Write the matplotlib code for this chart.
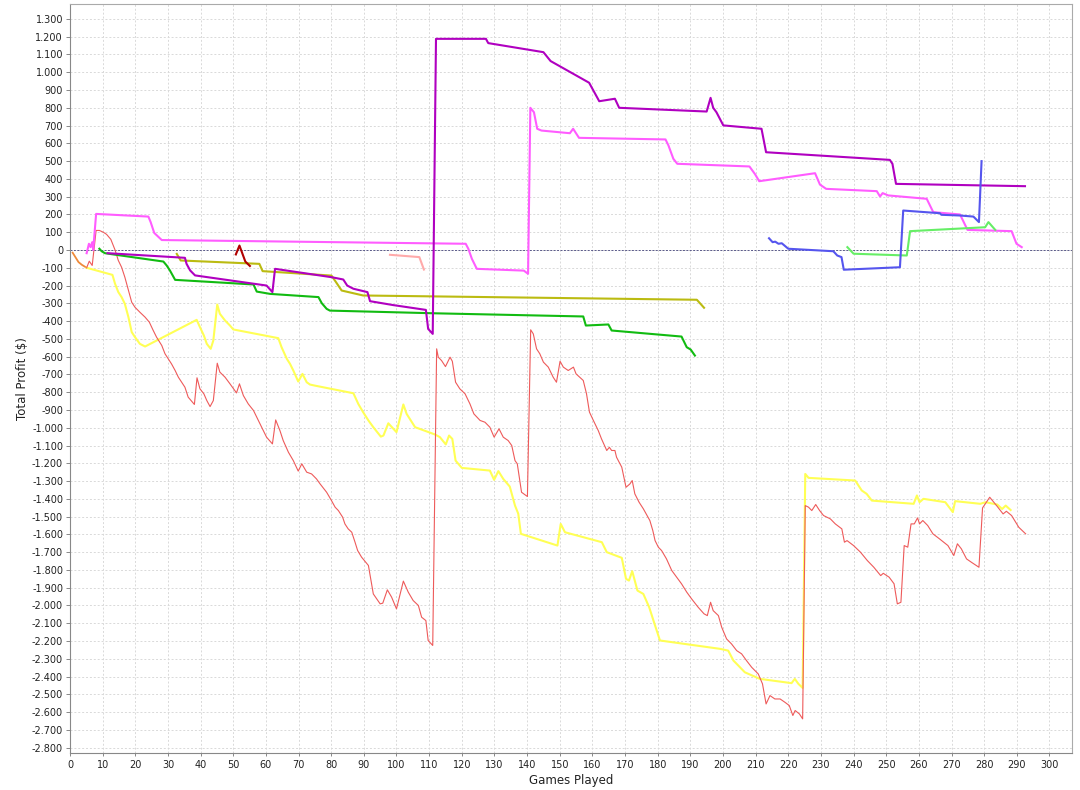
import matplotlib
matplotlib.use("Agg")
import matplotlib.pyplot as plt
from matplotlib.ticker import MultipleLocator, FuncFormatter

# ---------------- data ----------------
orange_x = [0.8, 2.6, 3.6, 5.1]
orange_y = [-15, -68, -83, -100]

red_x = [5.1, 5.9, 6.8, 8.0, 9.0, 10.2, 11.2, 12.5, 13.8, 14.8, 15.8, 16.8, 17.9, 18.9, 19.9, 21.4, 23.0, 24.3, 25.5, 26.5,
         28.1, 29.1, 30.1, 31.1, 32.2, 33.2, 34.2, 35.2, 36.2, 38.1, 38.9, 39.8, 41.0, 41.9, 42.9, 43.9, 45.1, 45.9, 47.5, 49.0,
         51.0, 51.9, 53.1, 54.6, 56.2, 57.2, 58.7, 60.2, 62.0, 63.0, 64.3, 65.3, 66.9, 68.4, 69.9, 71.0, 72.5, 74.0, 75.5, 76.6,
         78.6, 80.1, 81.2, 82.2, 83.5, 84.2, 85.2, 86.3, 87.3, 88.1, 89.3, 91.4, 92.9, 95.0, 95.8, 97.2, 98.5, 100.0, 102.1, 103.6,
         105.1, 106.7, 107.7, 109.0, 109.7, 111.1, 112.3, 112.8, 113.8, 115.0, 116.4, 117.1, 118.1, 119.4, 121.0, 122.5, 123.7, 125.6, 127.1, 128.6,
         129.9, 131.4, 132.7, 134.2, 135.3, 136.3, 137.0, 138.3, 140.1, 141.1, 141.9, 142.9, 143.9, 145.0, 146.5, 148.0, 149.0, 150.1, 151.1, 152.6,
         154.2, 155.0, 157.2, 158.2, 159.1, 160.3, 161.8, 162.8, 164.4, 165.2, 165.9, 166.9, 167.4, 169.0, 170.3, 171.5, 172.2, 173.0, 174.3, 175.6,
         177.6, 178.5, 179.2, 180.2, 181.2, 182.7, 184.3, 185.8, 187.3, 188.9, 190.4, 192.4, 194.2, 195.2, 196.2, 197.0, 198.6, 199.6, 201.1, 202.6,
         204.2, 205.7, 207.2, 208.8, 210.8, 212.1, 213.2, 214.4, 215.9, 217.5, 219.0, 220.3, 221.4, 222.1, 223.4, 224.4, 225.2, 226.2, 227.2, 228.4,
         229.6, 230.8, 232.9, 234.4, 236.4, 237.2, 238.0, 240.0, 242.1, 244.2, 246.2, 248.3, 249.1, 250.9, 252.4, 253.4, 254.5, 255.5, 256.6, 257.6,
         258.6, 259.6, 260.2, 261.2, 262.7, 264.3, 266.3, 268.9, 270.7, 271.8, 273.0, 274.6, 276.1, 278.4, 279.5, 281.7, 283.8, 285.8, 286.8, 288.4,
         290.6, 292.7]
red_y = [-100, -63, -87, 110, 110, 100, 88, 60, 0, -59, -97, -153, -228, -294, -322, -350, -378, -406, -453, -490,
         -537, -584, -612, -641, -678, -716, -744, -772, -828, -869, -719, -781, -809, -847, -881, -847, -637, -687, -716, -753,
         -804, -753, -819, -866, -903, -941, -997, -1053, -1091, -956, -1016, -1072, -1138, -1185, -1244, -1203, -1250, -1260, -1288, -1316,
         -1363, -1410, -1447, -1466, -1503, -1541, -1569, -1588, -1644, -1691, -1728, -1775, -1935, -1991, -1987, -1912, -1953, -2019, -1863, -1925,
         -1972, -2000, -2066, -2085, -2197, -2225, -556, -603, -622, -656, -603, -626, -744, -781, -809, -866, -922, -959, -969, -997,
         -1053, -1006, -1053, -1072, -1100, -1185, -1203, -1363, -1387, -449, -472, -556, -584, -631, -659, -716, -744, -626, -659, -678,
         -659, -697, -734, -809, -912, -959, -1016, -1063, -1128, -1110, -1128, -1128, -1166, -1222, -1335, -1316, -1297, -1372, -1419, -1456,
         -1522, -1578, -1635, -1672, -1691, -1738, -1803, -1841, -1878, -1925, -1963, -2010, -2047, -2057, -1982, -2029, -2057, -2122, -2188, -2216,
         -2254, -2272, -2310, -2348, -2385, -2441, -2554, -2507, -2526, -2526, -2545, -2563, -2619, -2591, -2610, -2638, -1438, -1447, -1466, -1432,
         -1466, -1494, -1513, -1541, -1569, -1644, -1635, -1663, -1700, -1747, -1785, -1832, -1819, -1841, -1878, -1991, -1982, -1663, -1672, -1541,
         -1541, -1507, -1541, -1522, -1550, -1597, -1625, -1663, -1719, -1653, -1681, -1738, -1757, -1785, -1451, -1391, -1438, -1485, -1470, -1494,
         -1560, -1597]

yellow_x = [5.1, 13.0, 13.8, 14.8, 15.8, 16.8, 17.9, 18.9, 19.9, 21.4, 23.0, 38.8, 39.8, 41.0, 41.9, 43.1, 43.9, 45.1, 45.9, 47.5,
            49.0, 50.0, 63.8, 64.8, 66.4, 67.4, 68.4, 69.9, 71.2, 72.5, 73.5, 75.0, 86.8, 88.3, 89.8, 91.4, 92.9, 95.2, 96.0, 97.5,
            100.0, 102.1, 103.1, 105.7, 111.8, 113.3, 115.1, 116.1, 117.1, 118.1, 120.0, 128.6, 129.9, 131.2, 132.7, 134.7, 136.3, 137.3, 138.1, 149.3,
            150.3, 151.6, 162.9, 164.4, 169.0, 170.3, 171.2, 172.2, 173.8, 175.6, 177.4, 179.2, 180.7, 199.1, 201.6, 203.2, 204.7, 206.7, 211.3, 221.0,
            222.0, 223.1, 224.4, 225.2, 226.2, 240.5, 242.5, 244.0, 245.6, 258.4, 259.4, 260.2, 261.4, 268.1, 270.4, 271.1, 278.8, 280.4, 284.0, 285.5,
            286.6, 288.1]
yellow_y = [-100, -140, -190, -237, -265, -303, -378, -462, -490, -528, -543, -393, -434, -481, -528, -556, -509, -307, -359, -397,
            -425, -447, -496, -547, -612, -641, -678, -740, -697, -744, -757, -763, -806, -866, -913, -959, -997, -1050, -1044, -975,
            -1025, -869, -922, -997, -1038, -1053, -1094, -1044, -1063, -1185, -1226, -1241, -1293, -1244, -1288, -1331, -1438, -1484, -1597, -1663,
            -1541, -1588, -1644, -1700, -1732, -1850, -1860, -1807, -1916, -1935, -2010, -2113, -2197, -2244, -2254, -2310, -2338, -2376, -2413, -2437,
            -2413, -2441, -2464, -1260, -1282, -1297, -1353, -1372, -1410, -1428, -1381, -1419, -1400, -1419, -1475, -1413, -1428, -1419, -1432, -1457,
            -1438, -1463]

pink_x = [5.1, 5.8, 6.3, 6.8, 7.1, 8.0, 24.0, 24.7, 25.8, 28.1, 121.2, 122.0, 123.1, 124.6, 139.0, 140.3, 141.0, 142.1, 143.1, 144.4,
          153.1, 154.1, 155.9, 182.4, 183.3, 184.8, 186.0, 208.1, 209.8, 211.1, 228.2, 229.7, 231.6, 247.1, 248.1, 248.9, 250.6, 262.4, 264.4, 272.6,
          274.9, 288.4, 289.9, 291.5]
pink_y = [-18, 35, 16, 44, 0, 203, 188, 157, 96, 56, 35, 7, -50, -106, -116, -134, 800, 775, 682, 672,
          657, 682, 631, 622, 588, 513, 485, 470, 427, 387, 432, 368, 344, 331, 301, 320, 307, 288, 213, 200,
          113, 106, 35, 16]

purple_x = [11.5, 35.2, 35.7, 36.8, 38.3, 60.2, 62.0, 62.8, 80.1, 83.7, 84.9, 86.8, 91.1, 91.9, 99.0, 109.0, 109.7, 111.1, 112.1, 127.4,
            128.1, 145.0, 147.2, 159.0, 162.1, 166.9, 168.2, 195.0, 196.2, 197.0, 198.0, 200.1, 211.8, 213.2, 251.1, 251.9, 253.0, 292.5]
purple_y = [-18, -44, -78, -115, -143, -200, -237, -106, -153, -166, -200, -218, -237, -288, -310, -337, -444, -472, 1188, 1188,
            1164, 1113, 1063, 941, 837, 851, 800, 779, 856, 800, 775, 701, 682, 550, 507, 485, 372, 359]

green_x = [9.0, 9.7, 10.7, 13.3, 28.6, 29.6, 30.6, 32.2, 56.2, 57.2, 61.3, 76.1, 77.1, 78.6, 79.6, 111.3, 157.2, 158.0, 164.9, 165.9,
           187.3, 188.9, 190.1, 191.4]
green_y = [7, -7, -18, -25, -65, -87, -115, -168, -194, -234, -247, -265, -299, -331, -341, -356, -374, -425, -419, -453,
           -487, -547, -560, -594]

olive_x = [32.7, 33.9, 58.0, 59.0, 80.1, 81.7, 83.2, 89.8, 192.0, 194.2]
olive_y = [-22, -59, -78, -119, -144, -187, -228, -256, -280, -325]

darkred_x = [50.8, 51.9, 52.7, 53.7, 55.1]
darkred_y = [-25, 25, -15, -65, -90]

salmon_x = [98.0, 107.0, 108.4]
salmon_y = [-27, -40, -110]

blue_x = [214.1, 215.2, 216.0, 217.0, 218.0, 220.0, 233.8, 235.0, 236.3, 237.0, 254.2, 255.2, 266.4, 266.9, 272.6, 276.7, 278.4, 279.2]
blue_y = [66, 44, 47, 35, 38, 7, -7, -31, -40, -111, -97, 222, 207, 198, 194, 188, 157, 500]

lgreen_x = [238.1, 240.0, 256.3, 257.3, 280.3, 281.3, 283.4]
lgreen_y = [16, -21, -31, 106, 128, 157, 113]

# ---------------- figure ----------------
fig = plt.figure(figsize=(10.8, 7.9), dpi=100)
ax = fig.add_axes([70 / 1080, 1 - 753 / 790, (1072 - 70) / 1080, (753 - 4) / 790])
ax.set_facecolor("white")

ax.set_xlim(0, 306.9)
ax.set_ylim(-2830, 1384)

ax.xaxis.set_major_locator(MultipleLocator(10))
ax.yaxis.set_major_locator(MultipleLocator(100))


def fmt(v, pos):
    return f"{int(round(v)):,}".replace(",", ".")


ax.yaxis.set_major_formatter(FuncFormatter(fmt))
ax.xaxis.set_major_formatter(FuncFormatter(fmt))

ax.grid(True, color="#d9d9d9", linestyle=(0, (2, 2)), linewidth=0.7)
ax.set_axisbelow(True)
ax.axhline(0, color="#5a5a8a", linestyle=(0, (2, 1.5)), linewidth=0.7, zorder=1)

for s in ax.spines.values():
    s.set_color("#aaaaaa")
    s.set_linewidth(0.8)
ax.spines["left"].set_color("#888888")
ax.spines["bottom"].set_color("#888888")

ax.tick_params(axis="y", labelsize=7, colors="#888888", length=3, width=0.7, labelcolor="#222222", pad=2)
ax.tick_params(axis="x", labelsize=7, colors="#888888", length=2, width=0.7, labelcolor="#222222", pad=3)

ax.set_xlabel("Games Played", fontsize=8.5, color="#222222", labelpad=3)
ax.set_ylabel("Total Profit ($)", fontsize=8.5, color="#222222", labelpad=2)

lw = 1.5
ax.plot(orange_x, orange_y, color="#ee8a3a", lw=1.3, zorder=3)
ax.plot(yellow_x, yellow_y, color="#ffff55", lw=lw, zorder=3)
ax.plot(red_x, red_y, color="#ee5a5a", lw=0.8, zorder=4)
ax.plot(green_x, green_y, color="#11bb11", lw=lw, zorder=5)
ax.plot(olive_x, olive_y, color="#bbbb11", lw=lw, zorder=5)
ax.plot(darkred_x, darkred_y, color="#b00000", lw=lw, zorder=5)
ax.plot(salmon_x, salmon_y, color="#ffaaaa", lw=lw, zorder=5)
ax.plot(pink_x, pink_y, color="#ff5cff", lw=lw, zorder=5)
ax.plot(purple_x, purple_y, color="#b000c0", lw=lw, zorder=6)
ax.plot(blue_x, blue_y, color="#5555ee", lw=lw, zorder=6)
ax.plot(lgreen_x, lgreen_y, color="#66ee66", lw=lw, zorder=5)

fig.savefig("out.png", dpi=100, facecolor="white")
